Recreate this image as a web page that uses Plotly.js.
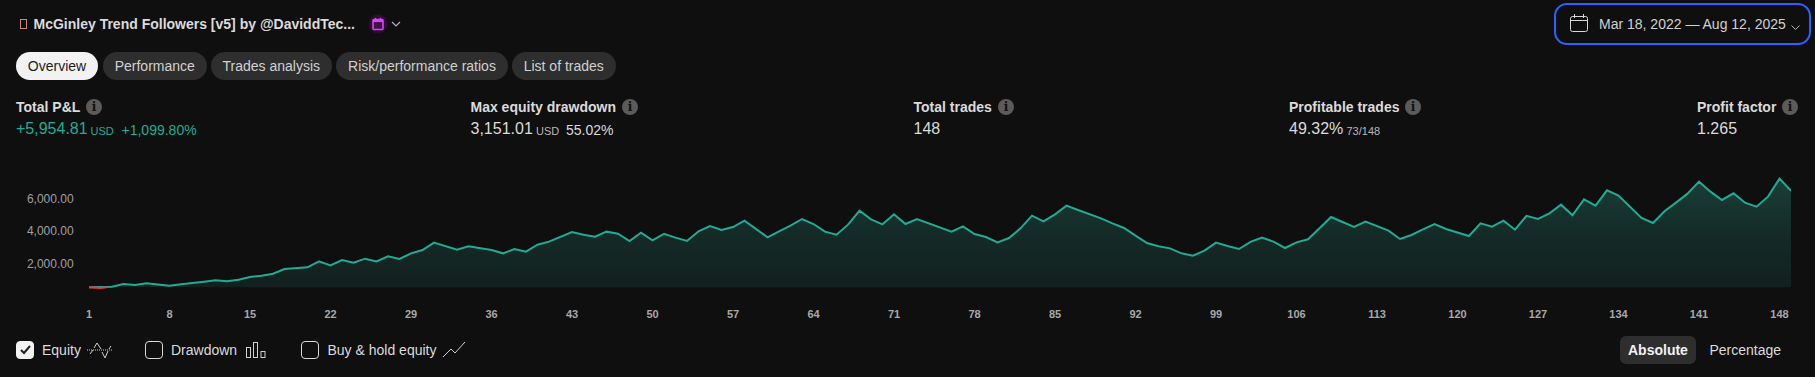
<!DOCTYPE html>
<html>
<head>
<meta charset="utf-8">
<script src="https://cdn.plot.ly/plotly-3.0.1.min.js"></script>
<style>
html,body{margin:0;padding:0;background:#0f0f0f;width:1815px;height:377px;overflow:hidden;font-family:"Liberation Sans",Arial,sans-serif;color:#dbdbdb}
#chart{position:absolute;left:0;top:0;width:1815px;height:377px}
.t{position:absolute;white-space:nowrap;line-height:20px;height:20px}
.pill{position:absolute;top:52px;height:28px;border-radius:14px;background:#2e2e2e;color:#d1d1d1;font-size:14px;line-height:28px;text-align:center}
.lab{font-size:14px;font-weight:bold;color:#dbdbdb}
.val{font-size:16px;color:#dbdbdb}
.small{font-size:11px;color:#b8b8b8}
.mid{font-size:14px;color:#dbdbdb}
.info{position:absolute;width:16px;height:16px;top:99px;border-radius:50%;background:#5b5b5b;color:#111;font-size:12px;font-weight:bold;line-height:16px;text-align:center;font-family:"DejaVu Serif",serif}
.cb{position:absolute;top:341px;width:16px;height:16px;border:1.3px solid #d8d8d8;border-radius:4px}
svg.i{position:absolute;overflow:visible}
</style>
</head>
<body>
<div id="chart"></div>

<div class="t" style="left:20px;top:19px;width:7px;height:10px;border:1px solid #c98a7a;box-sizing:border-box"></div>
<div class="t" style="left:33.5px;top:14px;font-size:14px;font-weight:bold;color:#dbdbdb">McGinley Trend Followers [v5] by @DaviddTec...</div>
<svg class="i" style="left:368px;top:14px" width="20" height="20" viewBox="0 0 20 20"><circle cx="10" cy="10" r="9.5" fill="#2b0f33"/><rect x="5" y="5.5" width="10" height="10" rx="1" fill="#3a1546" stroke="#e040fb" stroke-width="1.6"/><rect x="5" y="5.5" width="10" height="2.6" fill="#e040fb"/><path d="M7.5 3.8v2M12.5 3.8v2" stroke="#e040fb" stroke-width="1.3"/></svg>
<svg class="i" style="left:391px;top:21px" width="10" height="6" viewBox="0 0 10 6"><path d="M1 1l4 4 4-4" fill="none" stroke="#b8b8b8" stroke-width="1.1"/></svg>

<div class="pill" style="left:16px;width:82px;background:#f2f2f2;color:#1c1c1c">Overview</div>
<div class="pill" style="left:102.5px;width:104.5px">Performance</div>
<div class="pill" style="left:211px;width:120.5px">Trades analysis</div>
<div class="pill" style="left:336px;width:172px">Risk/performance ratios</div>
<div class="pill" style="left:512px;width:103.5px">List of trades</div>

<div style="position:absolute;left:1553.5px;top:3px;width:253px;height:38px;border:2px solid #2962ff;border-radius:13px"></div>
<svg class="i" style="left:1570px;top:14px" width="18" height="18" viewBox="0 0 18 18"><rect x="0.5" y="2.5" width="17" height="15" rx="2" fill="none" stroke="#d8d8d8"/><path d="M0.5 6.5h17M4.5 0v4M13.5 0v4" stroke="#d8d8d8" fill="none"/></svg>
<div class="t" style="left:1599px;top:14px;font-size:14px;color:#d1d1d1">Mar 18, 2022 — Aug 12, 2025</div>
<svg class="i" style="left:1791px;top:25px" width="9" height="5" viewBox="0 0 9 5"><path d="M.5.5l4 4 4-4" fill="none" stroke="#b8b8b8"/></svg>

<div class="t lab" style="left:16px;top:97px">Total P&amp;L</div><div class="info" style="left:86px">i</div>
<div class="t val" style="left:16px;top:119px;color:#22ab94">+5,954.81</div>
<div class="t small" style="left:90.5px;top:121px;color:#22ab94">USD</div>
<div class="t mid" style="left:121.5px;top:120px;color:#22ab94">+1,099.80%</div>

<div class="t lab" style="left:470.5px;top:97px">Max equity drawdown</div><div class="info" style="left:622px">i</div>
<div class="t val" style="left:470.5px;top:119px">3,151.01</div>
<div class="t small" style="left:536px;top:121px">USD</div>
<div class="t mid" style="left:566px;top:120px">55.02%</div>

<div class="t lab" style="left:913.5px;top:97px">Total trades</div><div class="info" style="left:998px">i</div>
<div class="t val" style="left:913.5px;top:119px">148</div>

<div class="t lab" style="left:1289px;top:97px">Profitable trades</div><div class="info" style="left:1405px">i</div>
<div class="t val" style="left:1289px;top:119px">49.32%</div>
<div class="t small" style="left:1346.5px;top:121px">73/148</div>

<div class="t lab" style="left:1697px;top:97px">Profit factor</div><div class="info" style="left:1782px">i</div>
<div class="t val" style="left:1697px;top:119px">1.265</div>

<div class="cb" style="left:16px;background:#f2f2f2;border-color:#f2f2f2"></div>
<svg class="i" style="left:20px;top:345px" width="11" height="10" viewBox="0 0 11 10"><path d="M1 5l3 3 6-7" fill="none" stroke="#222" stroke-width="2"/></svg>
<div class="t mid" style="left:42px;top:340px">Equity</div>
<svg class="i" style="left:87px;top:341px" width="25" height="18" viewBox="0 0 25 18"><path d="M0 9h25" stroke="#d0d0d0" stroke-dasharray="1 1" fill="none"/><path d="M3 13l3-4M7 7l3-5 4 6M15 11l3 6 3-7M22 8l2-3" stroke="#d0d0d0" fill="none"/></svg>
<div class="cb" style="left:145px"></div>
<div class="t mid" style="left:171px;top:340px">Drawdown</div>
<svg class="i" style="left:246px;top:341px" width="20" height="18" viewBox="0 0 20 18"><rect x="0.5" y="6.5" width="4" height="10" fill="none" stroke="#d0d0d0"/><rect x="7.5" y="1.5" width="4" height="15" fill="none" stroke="#d0d0d0"/><rect x="15" y="10.5" width="4" height="6" fill="none" stroke="#d0d0d0"/></svg>
<div class="cb" style="left:301px"></div>
<div class="t mid" style="left:327.5px;top:340px">Buy &amp; hold equity</div>
<svg class="i" style="left:443px;top:341px" width="22" height="18" viewBox="0 0 22 18"><path d="M0 16l8-8 4 4L22 1" fill="none" stroke="#d0d0d0"/></svg>

<div style="position:absolute;left:1620px;top:336px;width:76px;height:28px;border-radius:6px;background:#2e2e2e"></div>
<div class="t" style="left:1628px;top:340px;font-size:14px;font-weight:bold;color:#f2f2f2">Absolute</div>
<div class="t mid" style="left:1709.5px;top:340px">Percentage</div>

<script>
var trades = [];
var equity = [541,498,580,744,683,786,724,642,724,827,888,970,909,1011,1176,1258,1381,1669,1710,1772,2142,1895,2224,2060,2306,2130,2450,2286,2635,2840,3293,3067,2861,3067,2943,2840,2635,2902,2738,3169,3354,3642,3950,3786,3662,3971,3847,3395,3909,3436,3840,3601,3395,3991,4320,4074,4258,4649,4115,3621,3991,4341,4752,4443,3971,3786,4402,5265,4731,4423,5039,4443,4752,4505,4258,3971,4300,3827,3642,3313,3580,4176,4957,4608,5039,5574,5307,5060,4793,4484,4197,3724,3272,3067,2943,2635,2491,2799,3293,3087,2902,3344,3601,3354,2964,3313,3498,4176,4875,4567,4258,4587,4300,4032,3519,3765,4115,4443,4135,3909,3704,4484,4279,4649,4094,4947,4752,5101,5636,4978,5965,5574,6519,6191,5492,4814,4505,5225,5759,6314,7054,6437,5924,6334,5759,5513,6129,7239,6496];
var initialCapital = 541;
var yTicks = [2000,4000,6000];
var xTickStep = 7;
for (var i = 0; i < equity.length; i++) trades.push(i + 1);
var xTicks = trades.filter(function (t) { return (t - 1) % xTickStep === 0; });

// split the series at the initial-capital level (crossings found from the data)
var ax = [], ay = [], bx = [], by = [];
for (var k = 0; k < equity.length; k++) {
  if (k > 0 && (equity[k - 1] - initialCapital) * (equity[k] - initialCapital) < 0) {
    var c = trades[k - 1] + (initialCapital - equity[k - 1]) / (equity[k] - equity[k - 1]);
    ax.push(c); ay.push(initialCapital); bx.push(c); by.push(initialCapital);
  }
  ax.push(trades[k]); ay.push(Math.max(equity[k], initialCapital));
  bx.push(trades[k]); by.push(Math.min(equity[k], initialCapital));
}
var redEnd = bx.findIndex(function (x, j) { return j > 0 && by[j] === initialCapital; });

var traces = [
  {x: ax, y: ax.map(function () { return initialCapital; }), mode: 'lines', line: {width: 0, color: 'rgba(0,0,0,0)'}, hoverinfo: 'skip', showlegend: false},
  {x: ax, y: ay, mode: 'lines', fill: 'tonexty', line: {width: 2, color: '#22ab94'}, showlegend: false,
   fillgradient: {type: 'vertical', start: initialCapital, stop: 7400,
     colorscale: [[0, '#12201e'], [0.5, '#152b28'], [1, '#1a4038']]}},
  {x: bx.slice(0, redEnd + 1), y: by.slice(0, redEnd + 1), mode: 'lines', line: {width: 2, color: '#f23645'}, hoverinfo: 'skip', showlegend: false}
];

var layout = {
  width: 1815, height: 377,
  margin: {l: 88.6, r: 24, t: 170, b: 87, pad: 0},
  paper_bgcolor: '#0f0f0f', plot_bgcolor: '#0f0f0f',
  showlegend: false,
  font: {family: '"Liberation Sans", Arial, sans-serif'},
  xaxis: {range: [1, 149], tickmode: 'array', tickvals: xTicks, ticktext: xTicks.map(String),
    showgrid: false, zeroline: false, showline: false, ticks: 'outside', ticklen: 14, tickcolor: 'rgba(0,0,0,0)',
    tickfont: {size: 11, color: '#a8a8a8', weight: 'bold'}},
  yaxis: {range: [374.6, 7772.6], tickmode: 'array', tickvals: yTicks, tickformat: ',.2f',
    showgrid: false, zeroline: false, showline: false, ticks: 'outside', ticklen: 12, tickcolor: 'rgba(0,0,0,0)',
    tickfont: {size: 12, color: '#a0a0a0'}}
};
Plotly.newPlot('chart', traces, layout, {displayModeBar: false, staticPlot: true});
</script>
</body>
</html>
